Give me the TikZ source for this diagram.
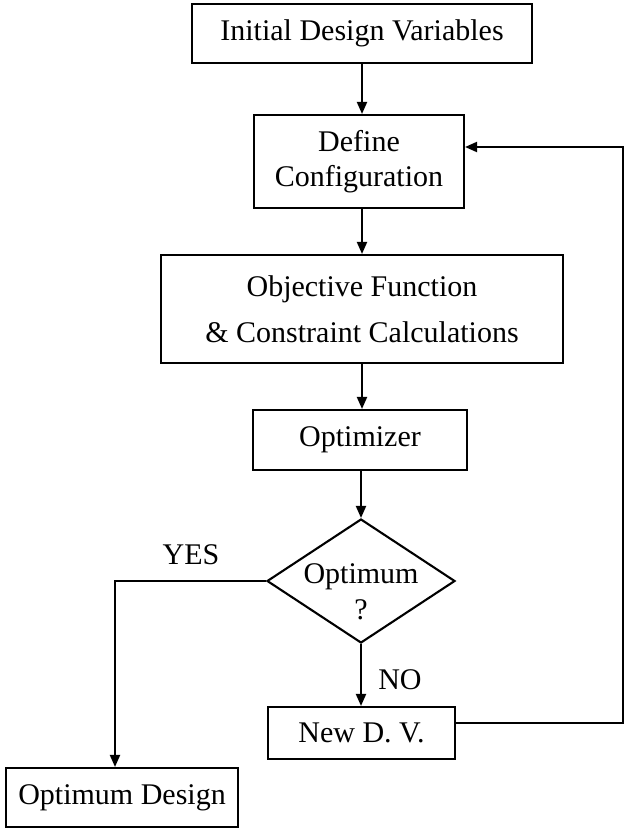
\documentclass[tikz,border=0pt]{standalone}
\usepackage{fontspec}
\setmainfont{Liberation Serif}
\usetikzlibrary{arrows.meta,shapes.geometric}
\tikzset{
  flowbox/.style={draw, line width=2.1pt, rectangle, inner sep=0pt, align=center},
  decbox/.style={draw, line width=2.1pt, diamond, inner sep=0pt},
  arr/.style={line width=2pt, -{Triangle[length=12pt,width=10pt]}},
}
\begin{document}
\begin{tikzpicture}[x=1pt,y=-1pt,font=\fontsize{30}{35}\selectfont]
\useasboundingbox[fill=white] (0,0) rectangle (625,830);
\node[flowbox, minimum width=340pt, minimum height=59pt] (init) at (362,33.5) {Initial Design Variables};
\node[flowbox, minimum width=210pt, minimum height=93pt] (define) at (359,161.5) {Define\\Configuration};
\node[flowbox, minimum width=402pt, minimum height=108pt] (obj) at (362,309) {Objective Function\\[11pt]\& Constraint Calculations};
\node[flowbox, minimum width=214pt, minimum height=60pt] (opt) at (360,440) {Optimizer};
\node[decbox, minimum width=188pt, minimum height=124pt] (dec) at (361,581) {};
\node (dectext) at (361,592) [align=center, font=\fontsize{30}{36}\selectfont] {Optimum\\?};
\node[flowbox, minimum width=187pt, minimum height=52pt] (newdv) at (361.5,733) {New D. V.};
\node[flowbox, minimum width=232pt, minimum height=59pt] (optd) at (122,797.5) {Optimum Design};
\node (yes) at (191,555) {YES};
\node (no) at (400,680) {NO};
\coordinate (fb) at (623,723);
\draw[arr] (init.south) -- (init.south |- define.north);
\draw[arr] (define.south -| obj.north) -- (obj.north);
\draw[arr] (obj.south) -- (obj.south |- opt.north);
\draw[arr] (opt.south -| dec.north) -- (dec.north);
\draw[arr] (dec.south) -- (dec.south |- newdv.north);
\draw[arr] (dec.west) -| ([xshift=-7pt]optd.north);
\draw[arr] ([yshift=10pt]newdv.east) -- (fb) |- ([yshift=14.5pt]define.east);
\end{tikzpicture}
\end{document}
